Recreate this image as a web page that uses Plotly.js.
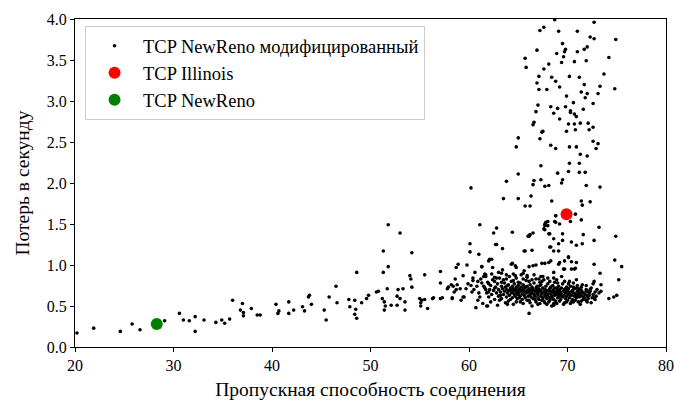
<!DOCTYPE html>
<html>
<head>
<meta charset="utf-8">
<script src="https://cdn.plot.ly/plotly-3.0.1.min.js"></script>
<style>html,body{margin:0;padding:0;background:#fff;}#chart{width:675px;height:402px;}</style>
</head>
<body>
<div id="chart"></div>
<script>
// Sparse points: [throughput, losses per second]
const sparsePoints = [
  [20.2,0.17],[21.9,0.23],[24.6,0.19],[25.8,0.28],[26.6,0.21],[29.1,0.32],[30.6,0.41],[31.0,0.33],
  [31.6,0.32],[32.2,0.37],[32.2,0.19],[33.1,0.33],[34.3,0.30],[34.9,0.33],[35.2,0.29],[35.7,0.34],
  [36.0,0.57],[36.8,0.45],[37.0,0.53],[37.1,0.42],[37.1,0.38],[37.9,0.47],[38.5,0.39],[38.8,0.39],
  [40.4,0.52],[40.7,0.44],[40.6,0.41],[41.7,0.55],[41.7,0.41],[42.2,0.45],[43.1,0.49],[43.3,0.44],
  [43.7,0.61],[43.8,0.63],[44.0,0.52],[45.3,0.45],[45.5,0.33],[45.8,0.61],[46.5,0.74],[46.6,0.54],
  [47.8,0.58],[47.9,0.49],[48.4,0.57],[48.5,0.46],[48.4,0.40],[48.6,0.35],[48.6,0.91],[49.1,0.54],
  [49.6,0.59],[49.8,0.63],[50.6,0.67],[50.8,0.68],
  [51.8,1.49],[53.0,1.39],[51.3,1.17],[54.2,1.15],[51.3,0.91],[51.8,0.98],[54.0,0.87],[54.1,0.83],
  [55.5,0.88],[57.1,0.92],[57.1,0.78],[51.7,0.71],[52.8,0.70],[53.3,0.71],[54.2,0.73],[51.2,0.59],
  [51.4,0.55],[51.4,0.45],[51.5,0.50],[52.1,0.51],[52.7,0.51],[52.7,0.62],[53.0,0.59],[53.5,0.55],
  [53.5,0.45],[55.0,0.59],[55.2,0.57],[55.1,0.54],[55.1,0.50],[55.5,0.58],[55.8,0.47],[56.3,0.59],
  [56.4,0.60],[57.1,0.59],[57.3,0.60],[61.1,1.49],[60.1,1.16],[61.0,1.13],[62.0,1.05],[61.3,0.98],
  [58.9,1.01],[58.7,0.97],[59.8,1.00],[59.4,0.87],[60.6,0.91],[61.6,0.89],[61.7,0.86],[58.6,0.83],
  [58.2,0.76],[57.9,0.73],[57.8,0.71],[58.4,0.74],[58.8,0.76],[58.7,0.70],[58.5,0.67],[59.1,0.71],
  [59.7,0.71],[58.3,0.60],[58.3,0.59],[59.2,0.57],[59.4,0.61],[59.5,0.61],[59.9,0.77],[60.4,0.81],
  [60.2,0.75],[60.5,0.70],[60.3,0.67],[60.8,0.74],[61.0,0.66],[60.9,0.57],[60.7,0.48],[61.1,0.61],
  [61.3,0.78],[61.5,0.74],[61.7,0.70],[61.9,0.50],[62.0,0.77],
  [65.7,1.72],[66.2,1.72],[68.4,1.78],[68.8,1.60],[67.7,1.50],[67.8,1.52],[67.6,1.44],[67.7,1.43],
  [68.7,1.53],[66.1,1.35],[66.2,1.37],[66.5,1.39],[64.4,1.40],[62.8,1.45],[62.5,1.39],[68.1,1.38],
  [68.6,1.32],[68.3,1.22],[68.6,1.17],[65.7,1.17],[66.4,1.18],[63.4,1.20],[62.8,1.25],[60.1,1.26],
  [68.7,3.99],[72.7,3.96],[67.6,3.90],[67.2,3.86],[69.1,3.85],[71.0,3.85],[72.3,3.78],[72.7,3.76],
  [74.9,3.75],[69.5,3.70],[69.8,3.63],[69.7,3.60],[66.9,3.62],[68.9,3.58],[71.0,3.60],[71.7,3.63],
  [72.0,3.66],[69.6,3.54],[65.7,3.52],[65.8,3.41],[74.2,3.53],[68.1,3.45],[67.6,3.39],[69.4,3.47],
  [70.7,3.48],[71.9,3.49],[73.7,3.33],[67.1,3.30],[68.4,3.29],[70.2,3.30],[71.2,3.29],[68.8,3.24],
  [66.9,3.22],[69.2,3.17],[71.7,3.20],[73.3,3.18],[74.8,3.15],[67.1,3.14],[67.9,3.14],[71.4,3.11],
  [72.0,3.09],[73.1,3.09],[69.9,3.06],[71.8,3.04],[70.6,2.98],[72.6,2.97],[67.0,2.95],[68.3,2.93],
  [69.0,2.91],[69.8,2.93],[71.6,2.90],[70.3,2.88],[70.3,2.86],[66.8,2.87],[68.6,2.85],[70.7,2.84],
  [70.9,2.81],[69.2,2.78],[66.6,2.74],[66.5,2.71],[70.1,2.72],[70.7,2.72],[71.3,2.73],[72.1,2.73],
  [72.6,2.68],[72.2,2.65],[70.8,2.65],[67.5,2.63],[67.4,2.62],[69.9,2.63],[65.0,2.55],[67.2,2.54],
  [64.8,2.44],[68.3,2.46],[68.8,2.42],[70.2,2.44],[70.9,2.44],[72.6,2.51],[73.1,2.48],[72.9,2.42],
  [71.3,2.35],[72.0,2.33],[70.2,2.24],[71.2,2.24],[67.3,2.21],[65.0,2.11],[69.0,2.12],[70.1,2.14],
  [71.2,2.13],[71.8,2.13],[63.8,2.02],[66.6,2.03],[66.5,1.98],[67.3,2.04],[67.7,1.96],[68.1,1.97],
  [69.5,2.04],[69.4,2.00],[71.9,1.97],[73.3,1.95],[60.2,1.94],[63.5,1.81],[65.0,1.81],[66.3,1.84],
  [71.4,1.78],[71.5,1.73],[72.3,1.77],
  [70.8,1.62],[68.8,1.60],[68.0,1.53],[67.7,1.48],[68.0,1.48],[68.8,1.52],[69.2,1.50],[70.3,1.53],
  [71.4,1.55],[66.1,1.36],[66.0,1.35],[68.2,1.38],[69.1,1.26],[69.5,1.38],[69.5,1.30],[70.4,1.28],
  [70.9,1.24],[71.5,1.26],[71.6,1.37],[72.7,1.30],[73.2,1.46],[62.7,1.25],[68.2,1.22],[69.1,1.17],
  [65.6,1.17],[62.1,1.07],[70.1,1.10],
  [74.9,1.35],[74.8,1.06],[75.5,0.98],[72.7,1.01],[73.3,0.90],[75.2,0.82],[72.7,0.80],[73.4,0.76],
  [73.4,0.68],[72.8,0.58],[72.4,0.54],[74.2,0.59],[74.7,0.61],[75.0,0.63],[72.3,0.70],
  [64.4,1.02],[64.7,0.99],[64.8,0.97],[66.1,0.98],[66.5,0.99],[66.8,1.00],[67.4,1.02],[67.7,1.02],
  [68.1,1.03],[68.3,1.05],[69.1,1.01],[69.2,1.03],[69.7,1.05],[70.1,1.09],[70.4,1.04],[70.9,1.03],
  [68.6,0.91],[69.7,0.95],[70.4,0.95],[70.7,0.95],[66.1,0.41],[68.6,0.51],[71.5,0.76],[70.9,0.82],
  [71.9,0.70],[72.1,0.67],[71.4,0.56],[62.3,1.07],[64.3,1.01],[61.3,0.98],[62.4,0.97],[65.6,0.93],
  [65.5,0.90],[65.9,0.87],[61.7,0.88],[63.4,0.94],[63.3,0.90],[63.8,0.88],[64.5,0.89],[64.7,0.87],
  [62.6,0.85],[66.4,0.82],[67.1,0.83],[67.5,0.86],[61.8,0.50],[69.6,0.95],[70.8,0.96],[70.9,0.72],
  [71.2,0.70],[71.4,0.67],[72.2,0.66],[71.9,0.57],[69.9,0.55],[70.6,0.55],[68.6,0.53]
];
// Dense cluster
const densePoints = [
  [61.6,0.72],[61.8,0.66],[61.9,0.79],[62.0,0.61],[62.1,0.70],[62.2,0.75],[62.3,0.64],[62.4,0.82],
  [62.5,0.69],[62.6,0.58],[62.7,0.73],[62.8,0.66],[62.9,0.77],[63.0,0.62],[63.0,0.70],
  [63.1,0.84],[63.2,0.67],[63.3,0.74],[63.3,0.59],[63.4,0.71],[63.5,0.64],[63.6,0.78],[63.6,0.68],
  [63.7,0.73],[63.8,0.61],[63.8,0.70],[63.9,0.66],[64.0,0.76],[64.0,0.56],
  [64.1,0.69],[64.1,0.63],[64.2,0.72],[64.3,0.80],[64.3,0.66],[64.4,0.60],[64.4,0.74],[64.5,0.68],
  [64.5,0.71],[64.6,0.64],[64.6,0.77],[64.7,0.62],[64.7,0.70],[64.8,0.66],[64.8,0.73],[64.9,0.59],
  [64.9,0.69],[65.0,0.75],[65.0,0.64],
  [65.1,0.71],[65.1,0.67],[65.2,0.62],[65.2,0.78],[65.3,0.69],[65.3,0.73],[65.4,0.65],[65.4,0.58],
  [65.5,0.70],[65.5,0.76],[65.6,0.63],[65.6,0.68],[65.7,0.72],[65.7,0.60],[65.8,0.66],[65.8,0.81],
  [65.9,0.69],[65.9,0.74],[66.0,0.62],[66.0,0.67],
  [66.1,0.71],[66.1,0.57],[66.2,0.64],[66.2,0.76],[66.3,0.69],[66.3,0.61],[66.4,0.73],[66.4,0.66],
  [66.5,0.59],[66.5,0.70],[66.6,0.64],[66.6,0.78],[66.7,0.68],[66.7,0.62],[66.8,0.72],[66.8,0.55],
  [66.9,0.66],[66.9,0.74],[67.0,0.60],[67.0,0.69],[67.0,0.64],
  [67.1,0.71],[67.1,0.58],[67.2,0.67],[67.2,0.75],[67.3,0.62],[67.3,0.69],[67.4,0.65],[67.4,0.80],
  [67.5,0.60],[67.5,0.72],[67.6,0.67],[67.6,0.56],[67.7,0.70],[67.7,0.63],[67.8,0.74],[67.8,0.66],
  [67.9,0.59],[67.9,0.69],[68.0,0.64],[68.0,0.77],
  [68.1,0.68],[68.1,0.61],[68.2,0.71],[68.2,0.57],[68.3,0.65],[68.3,0.73],[68.4,0.62],[68.4,0.68],
  [68.5,0.75],[68.5,0.59],[68.6,0.66],[68.6,0.70],[68.7,0.63],[68.7,0.79],[68.8,0.67],[68.8,0.56],
  [68.9,0.72],[68.9,0.64],[69.0,0.69],[69.0,0.60],
  [69.1,0.74],[69.1,0.66],[69.2,0.62],[69.2,0.70],[69.3,0.58],[69.3,0.67],[69.4,0.72],[69.4,0.64],
  [69.5,0.61],[69.5,0.77],[69.6,0.68],[69.6,0.63],[69.7,0.70],[69.8,0.59],[69.8,0.66],[69.9,0.73],
  [69.9,0.62],[70.0,0.68],
  [70.1,0.64],[70.1,0.71],[70.2,0.60],[70.3,0.67],[70.3,0.74],[70.4,0.63],[70.5,0.69],[70.5,0.58],
  [70.6,0.66],[70.7,0.62],[70.7,0.71],[70.8,0.65],[70.9,0.60],[71.0,0.68],[71.0,0.63],
  [71.1,0.66],[71.2,0.61],[71.3,0.64],[71.4,0.69],[71.5,0.62],[71.6,0.66],[71.7,0.60],[71.8,0.64],
  [72.0,0.62],[72.1,0.59],[72.2,0.63],
  [60.4,0.84],[60.9,0.80],[61.2,0.83],[61.5,0.86],[62.3,0.89],[62.8,0.84],[63.0,0.91],[63.5,0.82],
  [64.1,0.86],[64.8,0.84],[65.3,0.88],[65.9,0.85],[66.6,0.88],[67.3,0.86],[68.0,0.84],[68.9,0.82],
  [69.4,0.86],[70.2,0.80],
  [61.4,0.53],[62.9,0.51],[63.7,0.54],[64.5,0.52],[65.2,0.55],[66.4,0.50],[67.2,0.53],[67.9,0.52],
  [68.4,0.50],[69.7,0.54],[70.4,0.55],[71.3,0.52],
  [62.2,0.55],[63.1,0.57],[63.9,0.52],[64.2,0.58],[64.8,0.55],[65.5,0.53],[65.9,0.57],[66.2,0.54],
  [66.7,0.58],[67.0,0.52],[67.4,0.57],[67.7,0.54],[68.1,0.55],[68.6,0.58],[68.9,0.53],[69.2,0.56],
  [69.6,0.52],[70.0,0.57],[70.3,0.53],[70.8,0.57],[71.1,0.55],[71.6,0.58],[72.0,0.55],[72.5,0.60],
  [72.6,0.64],[72.9,0.62],
  [62.6,0.80],[63.3,0.79],[63.8,0.83],[64.5,0.81],[65.0,0.79],[65.5,0.83],[66.1,0.80],[66.8,0.83],
  [67.2,0.79],[67.6,0.82],[68.2,0.80],[68.6,0.84],[69.0,0.78],[69.7,0.80],[70.1,0.77],[70.6,0.78],
  [71.0,0.75],[71.4,0.73],[71.9,0.75],[72.4,0.72],[72.6,0.77],[73.0,0.70],[73.2,0.66],[72.8,0.67],
  [62.0,0.67],[62.6,0.72],[63.2,0.63],[63.9,0.75],[64.3,0.70],[65.1,0.60],[65.6,0.74],[66.2,0.68],
  [66.9,0.70],[67.3,0.76],[67.8,0.61],[68.3,0.60],[68.7,0.72],[69.2,0.65],[69.8,0.71],[70.2,0.65],
  [70.6,0.73],[71.1,0.71],[71.5,0.67],[71.9,0.68],[72.3,0.68],[72.7,0.60]
];
const illinoisX = [69.9];
const illinoisY = [1.62];
const newRenoX = [28.3];
const newRenoY = [0.28];
const seriesNames = ["TCP NewReno модифицированный", "TCP Illinois", "TCP NewReno"];
const xTicks = [20, 30, 40, 50, 60, 70, 80];
const yTicks = [0, 0.5, 1, 1.5, 2, 2.5, 3, 3.5, 4];

const allPts = sparsePoints.concat(densePoints);
const FONT = "Liberation Serif";

const traces = [
  {x: allPts.map(p => p[0]), y: allPts.map(p => p[1]), type: "scatter", mode: "markers",
   name: seriesNames[0], marker: {color: "black", size: 3.6}},
  {x: illinoisX, y: illinoisY, type: "scatter", mode: "markers", name: seriesNames[1],
   marker: {color: "#ff0000", size: 12}},
  {x: newRenoX, y: newRenoY, type: "scatter", mode: "markers", name: seriesNames[2],
   marker: {color: "#008000", size: 12}}
];

const axisCommon = {
  showgrid: false, zeroline: false, showline: true, linecolor: "black", linewidth: 1,
  mirror: true, ticks: "outside", ticklen: 4, tickwidth: 1, tickcolor: "black",
  tickfont: {family: FONT, size: 16, color: "black"}
};

const layout = {
  width: 675, height: 402,
  margin: {l: 75, r: 9, t: 19, b: 55},
  paper_bgcolor: "white", plot_bgcolor: "white",
  font: {family: FONT, color: "black"},
  showlegend: true,
  legend: {x: 0.017, y: 0.978, xanchor: "left", yanchor: "top", bgcolor: "white",
           bordercolor: "#cccccc", borderwidth: 1, font: {family: FONT, size: 18.5, color: "black"},
           itemsizing: "trace", itemwidth: 47, tracegroupgap: 0},
  xaxis: Object.assign({}, axisCommon, {range: [20, 80], tickvals: xTicks,
    title: {text: "Пропускная способность соединения", font: {family: FONT, size: 19.5}, standoff: 9}}),
  yaxis: Object.assign({}, axisCommon, {range: [0, 4], tickvals: yTicks, tickformat: ".1f",
    title: {text: "Потерь в секунду", font: {family: FONT, size: 19.5}, standoff: 11}})
};

Plotly.newPlot("chart", traces, layout, {displayModeBar: false, staticPlot: true});
</script>
</body>
</html>
